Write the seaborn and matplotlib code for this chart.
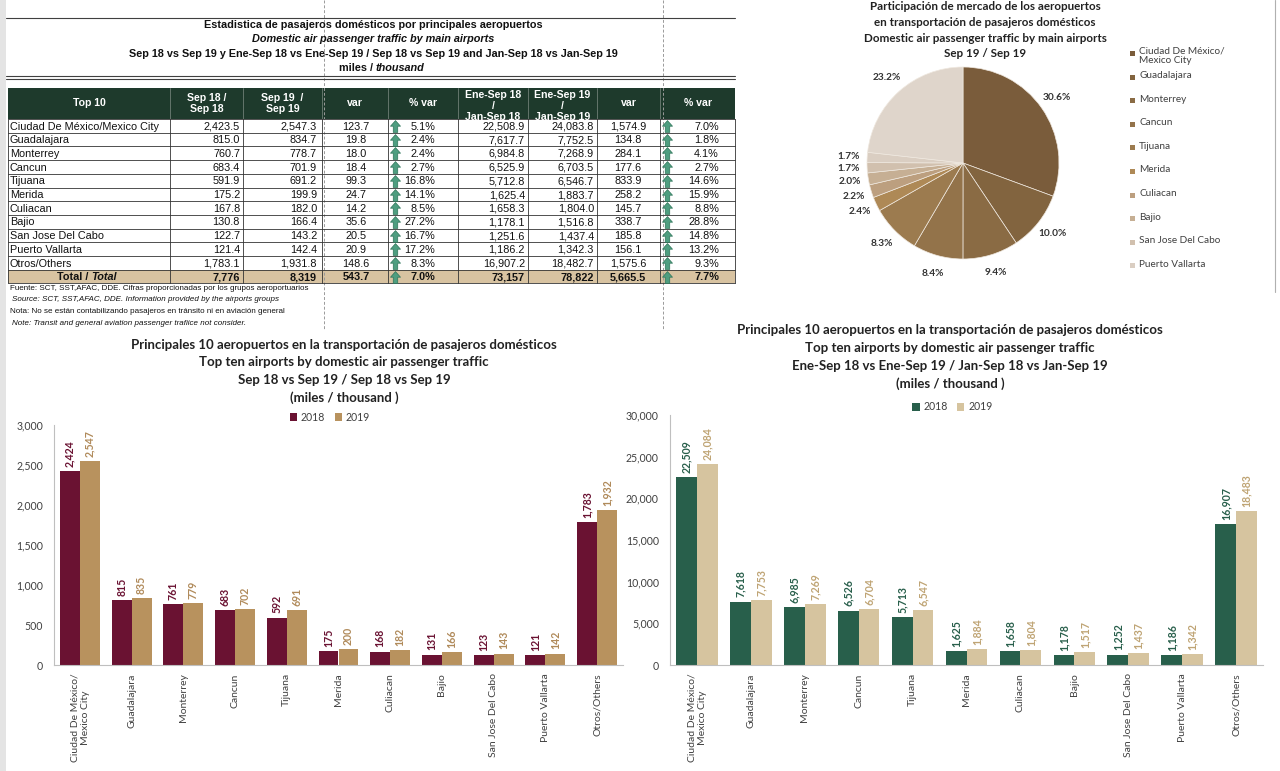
import numpy as np
import pandas as pd
import matplotlib
matplotlib.use('Agg')
import matplotlib.pyplot as plt
from matplotlib.patches import Rectangle
from matplotlib.path import Path
import seaborn as sns

# ---- data ----
airports = ['Ciudad De México/Mexico City', 'Guadalajara', 'Monterrey', 'Cancun', 'Tijuana',
            'Merida', 'Culiacan', 'Bajio', 'San Jose Del Cabo', 'Puerto Vallarta', 'Otros/Others']
bar_labels = ['Ciudad De México/\nMexico City'] + airports[1:]
sep18 = [2423.5, 815.0, 760.7, 683.4, 591.9, 175.2, 167.8, 130.8, 122.7, 121.4, 1783.1]
sep19 = [2547.3, 834.7, 778.7, 701.9, 691.2, 199.9, 182.0, 166.4, 143.2, 142.4, 1931.8]
var_sep = [123.7, 19.8, 18.0, 18.4, 99.3, 24.7, 14.2, 35.6, 20.5, 20.9, 148.6]
pct_sep = [5.1, 2.4, 2.4, 2.7, 16.8, 14.1, 8.5, 27.2, 16.7, 17.2, 8.3]
ytd18 = [22508.9, 7617.7, 6984.8, 6525.9, 5712.8, 1625.4, 1658.3, 1178.1, 1251.6, 1186.2, 16907.2]
ytd19 = [24083.8, 7752.5, 7268.9, 6703.5, 6546.7, 1883.7, 1804.0, 1516.8, 1437.4, 1342.3, 18482.7]
var_ytd = [1574.9, 134.8, 284.1, 177.6, 833.9, 258.2, 145.7, 338.7, 185.8, 156.1, 1575.6]
pct_ytd = [7.0, 1.8, 4.1, 2.7, 14.6, 15.9, 8.8, 28.8, 14.8, 13.2, 9.3]
total_row = ['7,776', '8,319', '543.7', '7.0%', '73,157', '78,822', '5,665.5', '7.7%']

headers = ['Top 10', 'Sep 18 /\nSep 18', 'Sep 19  /\nSep 19', 'var', '% var',
           'Ene-Sep 18\n/\nJan-Sep 18', 'Ene-Sep 19\n/\nJan-Sep 19', 'var', '% var']

pie_colors = ['#7A5C3B', '#82643F', '#8A6B44', '#93734A', '#9C7B4F', '#AE8956',
              '#BC9F7F', '#C6AF94', '#D1C0AE', '#DACEC2', '#DFD5CB']

W, H = 1280, 771
TABLE_FONT = ['Liberation Sans', 'DejaVu Sans']
CHART_FONT = ['Lato', 'DejaVu Sans']

sns.set_theme(style='white')
plt.rcParams['font.family'] = CHART_FONT

fig = plt.figure(figsize=(W / 100, H / 100), dpi=100, facecolor='white')
bg = fig.add_axes([0, 0, 1, 1])
bg.set_xlim(0, W)
bg.set_ylim(H, 0)
bg.axis('off')


def px_axes(x0, y0, x1, y1):
    return fig.add_axes([x0 / W, 1 - y1 / H, (x1 - x0) / W, (y1 - y0) / H])


def t(x, y, s, **kw):
    kw.setdefault('family', TABLE_FONT)
    kw.setdefault('va', 'center')
    kw.setdefault('color', '#111111')
    return bg.text(x, y, s, **kw)


# fat "up" arrow icon used in the % var columns (marker paths live in screen space)
up_arrow = Path([(0, 1), (-0.85, 0.05), (-0.38, 0.05), (-0.38, -1), (0.38, -1),
                 (0.38, 0.05), (0.85, 0.05), (0, 1)])


def arrow(x, y):
    bg.plot([x], [y], marker=up_arrow, markersize=8.5, color='#4E9E80',
            markeredgecolor='#2E7458', markeredgewidth=0.5, zorder=4)


# ---- spreadsheet chrome ----
bg.add_patch(Rectangle((0, 0), 6, H, color='#E4E4E4', lw=0))
bg.plot([1275, 1275], [0, 292], color='#B0B0B0', lw=0.8)

# ---- title block ----
bg.plot([6, 735], [18, 18], color='#404040', lw=0.8)
bg.plot([6, 735], [76, 76], color='#404040', lw=0.8)
bg.plot([6, 735], [79, 79], color='#404040', lw=0.8)
tx = 373
tfs = 7.8
t(tx, 25, 'Estadistica de pasajeros domésticos por principales aeropuertos', ha='center', fontsize=tfs, fontweight='bold')
t(tx, 39, 'Domestic air passenger traffic by main airports', ha='center', fontsize=tfs, fontweight='bold', style='italic')
t(tx, 54, 'Sep 18 vs Sep 19 y Ene-Sep 18 vs Ene-Sep 19 / Sep 18 vs Sep 19 and Jan-Sep 18 vs Jan-Sep 19',
  ha='center', fontsize=tfs, fontweight='bold')
t(tx + 3, 68, 'miles / ', ha='right', fontsize=tfs, fontweight='bold')
t(tx + 3, 68, 'thousand', ha='left', fontsize=tfs, fontweight='bold', style='italic')

# ---- table ----
col_x = [8, 170, 243, 322, 388, 458, 528, 597, 660, 735]
hdr_top, hdr_bot, row_h = 88, 119, 13.7
n = len(airports)
tbl_bot = hdr_bot + (n + 1) * row_h

bg.add_patch(Rectangle((col_x[0], hdr_top), col_x[-1] - col_x[0], hdr_bot - hdr_top, color='#1E3A2C', lw=0))
bg.add_patch(Rectangle((col_x[0], hdr_bot + n * row_h), col_x[-1] - col_x[0], row_h, color='#D8C3A1', lw=0))
for k, h in enumerate(headers):
    xc = (col_x[k] + col_x[k + 1]) / 2
    if h.count('\n') == 2:
        txt = t(xc, hdr_top + 2, h, ha='center', va='top', fontsize=7.6, fontweight='bold',
                color='white', linespacing=1.1)
        clip = Rectangle((col_x[k], hdr_top), col_x[k + 1] - col_x[k], hdr_bot - hdr_top - 3,
                         transform=bg.transData, fill=False, lw=0)
        txt.set_clip_path(clip)
    else:
        t(xc, (hdr_top + hdr_bot) / 2, h, ha='center', fontsize=7.6, fontweight='bold',
          color='white', linespacing=1.1)
    if k > 0:
        bg.plot([col_x[k], col_x[k]], [hdr_top, hdr_bot], color='#6F7F76', lw=0.6)

for i in range(n + 2):
    y = hdr_bot + i * row_h
    bg.plot([col_x[0], col_x[-1]], [y, y], color='#333333', lw=0.6)
for xk in col_x:
    bg.plot([xk, xk], [hdr_bot, tbl_bot], color='#333333', lw=0.6)

# page-break guides
for xk in [324, 663]:
    bg.plot([xk, xk], [0, 330], color='#9A9A9A', lw=0.7, ls=(0, (3, 2)), zorder=1)

fs = 7.8
for i in range(n):
    yc = hdr_bot + (i + 0.55) * row_h
    t(10, yc, airports[i], fontsize=fs)
    t(240, yc, f'{sep18[i]:,.1f}', ha='right', fontsize=fs)
    t(317, yc, f'{sep19[i]:,.1f}', ha='right', fontsize=fs)
    t(356, yc, f'{var_sep[i]:,.1f}', ha='center', fontsize=fs)
    arrow(395, yc - 0.5)
    t(435, yc, f'{pct_sep[i]:.1f}%', ha='right', fontsize=fs)
    t(525, yc, f'{ytd18[i]:,.1f}', ha='right', fontsize=fs)
    t(594, yc, f'{ytd19[i]:,.1f}', ha='right', fontsize=fs)
    t(628, yc, f'{var_ytd[i]:,.1f}', ha='center', fontsize=fs)
    arrow(667, yc - 0.5)
    t(719, yc, f'{pct_ytd[i]:.1f}%', ha='right', fontsize=fs)

yc = hdr_bot + (n + 0.55) * row_h
t(91, yc, 'Total / ', ha='right', fontsize=fs, fontweight='bold')
t(91, yc, 'Total', ha='left', fontsize=fs, fontweight='bold', style='italic')
tot_pos = [(240, 'right'), (317, 'right'), (356, 'center'), (435, 'right'),
           (525, 'right'), (594, 'right'), (628, 'center'), (719, 'right')]
for (xp, ha), s in zip(tot_pos, total_row):
    t(xp, yc, s, ha=ha, fontsize=fs, fontweight='bold')
arrow(395, yc - 0.5)
arrow(667, yc - 0.5)

notes = [('Fuente: SCT, SST,AFAC, DDE. Cifras proporcionadas por los grupos aeroportuarios', 'normal'),
         ('Source: SCT, SST,AFAC, DDE. Information provided by the airports groups', 'italic'),
         ('Nota: No se están contabilizando pasajeros en tránsito ni en aviación general', 'normal'),
         ('Note: Transit and general aviation passenger trafiice not consider.', 'italic')]
for j, (s, st) in enumerate(notes):
    t(10 if st == 'normal' else 12, 288 + j * 11.7, s, fontsize=5.8, style=st)

# ---- pie chart ----
pie_ax = px_axes(867, 67, 1059, 259)
wedges, _, autotexts = pie_ax.pie(sep19, colors=pie_colors, startangle=90, counterclock=False,
                                  autopct='%1.1f%%', pctdistance=1.19,
                                  wedgeprops=dict(edgecolor='#EFE8DF', linewidth=0.5),
                                  textprops=dict(fontsize=7.3, fontweight='bold', color='#333333'))
pie_ax.set_xlim(-1, 1)
pie_ax.set_ylim(-1, 1)

pt = ['Participación de mercado de los aeropuertos', 'en transportación de pasajeros domésticos',
      'Domestic air passenger traffic by main airports', 'Sep 19 / Sep 19']
for j, s in enumerate(pt):
    bg.text(985, 7 + j * 15.5, s, ha='center', va='center', fontsize=8.4, fontweight='bold', color='#222222')

leg_names = ['Ciudad De México/\nMexico City'] + airports[1:10]
for i, (name, c) in enumerate(zip(leg_names, pie_colors)):
    y = 53 if i == 0 else 77 + (i - 1) * 23.6
    bg.add_patch(Rectangle((1130, y - 2.5), 5, 5, color=c, lw=0))
    bg.text(1139, y - 6, name, ha='left', va='top', fontsize=7.2, color='#404040', linespacing=1.05)


# ---- bar charts ----
def bar_chart(ax, v18, v19, colors, label_colors, ymax, step, leg_xy):
    df = pd.DataFrame({'airport': bar_labels * 2,
                       'year': ['2018'] * len(v18) + ['2019'] * len(v19),
                       'value': v18 + v19})
    sns.barplot(data=df, x='airport', y='value', hue='year', palette=colors, width=0.77,
                saturation=1, errorbar=None, linewidth=0, edgecolor='none', ax=ax)
    for cont, vals, lc in zip(ax.containers, [v18, v19], label_colors):
        ax.bar_label(cont, labels=[f'{int(np.floor(v + 0.5)):,}' for v in vals], rotation=90,
                     padding=3, fontsize=7.6, fontweight='bold', color=lc)
    ax.set_xlim(-0.5, len(v18) - 0.5)
    ax.set_ylim(0, ymax)
    ax.set_yticks(np.arange(0, ymax + 1, step))
    ax.set_yticklabels([f'{v:,.0f}' for v in np.arange(0, ymax + 1, step)])
    ax.set_xticks(range(len(bar_labels)))
    ax.set_xticklabels(bar_labels, rotation=90)
    ax.tick_params(axis='x', length=0, pad=6, labelsize=7.5, labelcolor='#404040')
    ax.tick_params(axis='y', length=0, pad=8, labelsize=7.6, labelcolor='#404040')
    ax.set_xlabel('')
    ax.set_ylabel('')
    ax.set_facecolor('none')
    for side in ['top', 'right']:
        ax.spines[side].set_visible(False)
    for side in ['left', 'bottom']:
        ax.spines[side].set_color('#BFBFBF')
        ax.spines[side].set_linewidth(0.8)
    sns.move_legend(ax, 'center', bbox_to_anchor=leg_xy, ncol=2, frameon=False, title=None,
                    fontsize=7.6, handlelength=0.7, handleheight=0.7, handletextpad=0.35,
                    columnspacing=0.9)
    for txt in ax.get_legend().get_texts():
        txt.set_color('#404040')


ax1 = px_axes(54, 425, 623, 665)
bar_chart(ax1, sep18, sep19, ['#6A1232', '#B8925E'], ['#6A1232', '#B08A5A'], 3000, 500, (0.485, 1.033))
ax2 = px_axes(670, 415, 1263, 665)
bar_chart(ax2, ytd18, ytd19, ['#285F4B', '#D6C49F'], ['#285F4B', '#BFA474'], 30000, 5000, (0.476, 1.032))

left_title = ['Principales 10 aeropuertos en la transportación de pasajeros domésticos',
              'Top ten airports by domestic air passenger traffic',
              'Sep 18 vs Sep 19 / Sep 18 vs Sep 19', '(miles / thousand )']
right_title = ['Principales 10 aeropuertos en la transportación de pasajeros domésticos',
               'Top ten airports by domestic air passenger traffic',
               'Ene-Sep 18 vs Ene-Sep 19 / Jan-Sep 18 vs Jan-Sep 19', '(miles / thousand )']
for j, s in enumerate(left_title):
    bg.text(344, 345 + j * 17.5, s, ha='center', va='center', fontsize=9.5, fontweight='bold', color='#222222')
for j, s in enumerate(right_title):
    bg.text(950, 330 + j * 18, s, ha='center', va='center', fontsize=9.5, fontweight='bold', color='#222222')

fig.savefig('out.png', dpi=100, facecolor='white')
